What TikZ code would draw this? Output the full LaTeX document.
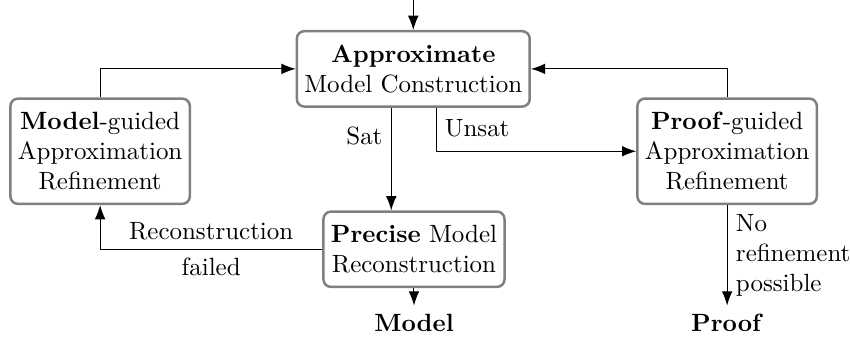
\documentclass[tikz,border=0pt]{standalone}
\usepackage{tikz}
\usetikzlibrary{arrows.meta}

\tikzset{
  stage/.style={draw=gray, line width=1pt, rounded corners=3pt, align=center, inner xsep=3pt, inner ysep=5.5pt},
  flow/.style={-{Latex[length=2mm,width=1.5mm]}},
}

\begin{document}
\begin{tikzpicture}
\useasboundingbox (0,0) rectangle (11.97,4.96);

\node[stage] (approx) at (5.82,3.99) {\textbf{Approximate}\\Model Construction};
\node[stage] (mguided) at (1.41,2.83) {\textbf{Model}-guided\\Approximation\\Refinement};
\node[stage] (pguided) at (10.24,2.83) {\textbf{Proof}-guided\\Approximation\\Refinement};
\node[stage] (precise) at (5.83,1.45) {\textbf{Precise} Model\\Reconstruction};
\node (model) at (5.83,0.41) {\textbf{Model}};
\node (proof) at (10.24,0.41) {\textbf{Proof}};
\coordinate (start) at (5.82,4.96);

\draw[flow] (start) -- (approx); % Eingang
\draw[flow] (mguided.north) |- (approx.west);
\draw[flow] (pguided.north) |- (approx.east);

% Sat / Unsat
\draw[flow] ([xshift=-0.31cm]approx.south) -- ([xshift=-0.31cm]approx.south |- precise.north)
  node[pos=0.27, left] {Sat};
\draw[flow] ([xshift=0.32cm]approx.south) |- (pguided.west)
  node[pos=0.5, above right, yshift=2pt] {Unsat};

\draw[flow] (precise.west) -| (mguided.south)
  node[pos=0.25, above] {Reconstruction}
  node[pos=0.25, below] {failed};
\draw[flow] (precise) -- (model);
\draw[flow] (pguided) -- (proof)
  node[pos=0.5, right, align=left] {No\\refinement\\possible};
\end{tikzpicture}
\end{document}
